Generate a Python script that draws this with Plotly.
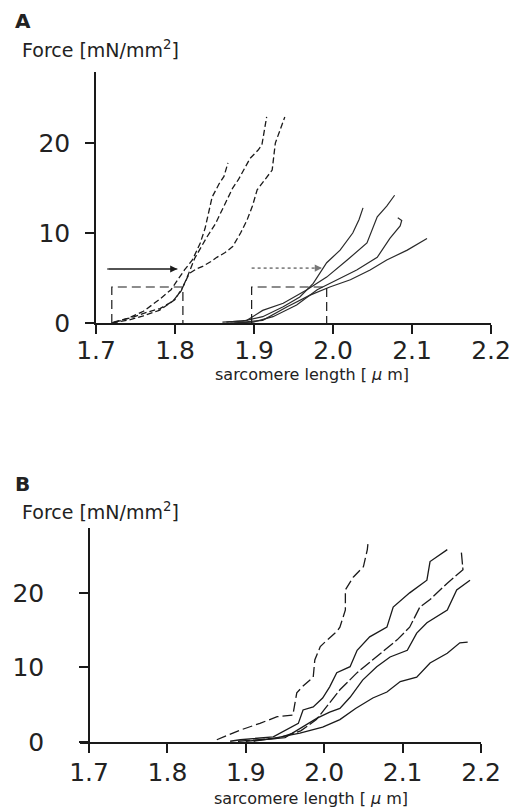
import plotly.graph_objects as go

W, H = 512, 811

# ---------------- Panel A data ----------------
a_l1_x = [1.722, 1.74, 1.76, 1.78, 1.795, 1.803, 1.812, 1.822, 1.832, 1.838, 1.847, 1.856, 1.862, 1.867]
a_l1_y = [0.1, 0.5, 1.3, 2.6, 3.7, 4.8, 5.9, 7.0, 8.9, 10.5, 14.0, 15.5, 16.3, 17.8]
a_l2_x = [1.724, 1.745, 1.765, 1.781, 1.797, 1.808, 1.815, 1.825, 1.84, 1.851, 1.862, 1.873, 1.88, 1.895, 1.905, 1.91, 1.916]
a_l2_y = [0.1, 0.6, 1.2, 1.6, 2.4, 3.6, 5.0, 7.2, 9.5, 11.0, 13.0, 15.0, 15.9, 18.3, 19.2, 19.8, 22.9]
a_l3_x = [1.72, 1.74, 1.76, 1.78, 1.80, 1.81, 1.818, 1.827, 1.835, 1.845, 1.853, 1.863, 1.873, 1.883, 1.891, 1.898, 1.904, 1.915, 1.923, 1.927, 1.933, 1.939]
a_l3_y = [0.0, 0.3, 0.8, 1.4, 2.6, 4.0, 5.5, 6.0, 6.3, 6.8, 7.3, 7.8, 8.5, 10.0, 11.4, 13.0, 14.8, 16.0, 17.0, 20.0, 21.5, 22.9]

a_r1_x = [1.86, 1.886, 1.911, 1.937, 1.958, 1.975, 1.992, 2.009, 2.025, 2.033, 2.038]
a_r1_y = [0.1, 0.2, 0.7, 1.8, 2.9, 4.4, 6.7, 8.1, 10.0, 11.5, 12.8]
a_r2_x = [1.865, 1.891, 1.911, 1.937, 1.967, 1.992, 2.018, 2.043, 2.056, 2.068, 2.078]
a_r2_y = [0.1, 0.3, 1.4, 2.2, 3.7, 5.1, 7.0, 8.9, 11.8, 13.0, 14.2]
a_r3_x = [1.87, 1.899, 1.924, 1.954, 1.98, 2.005, 2.03, 2.056, 2.072, 2.085, 2.087, 2.082]
a_r3_y = [0.0, 0.1, 0.7, 2.0, 3.7, 4.8, 5.9, 7.3, 9.4, 10.8, 11.4, 11.7]
a_r4_x = [1.875, 1.911, 1.942, 1.971, 1.996, 2.022, 2.047, 2.068, 2.094, 2.119]
a_r4_y = [0.0, 0.3, 1.8, 3.1, 4.0, 4.8, 5.9, 7.0, 8.1, 9.4]

# dashed boxes (A)
box1_x = [1.72, 1.72, 1.81, 1.81]
box1_y = [0.0, 4.0, 4.0, 0.0]
box2_x = [1.897, 1.897, 1.992, 1.992]
box2_y = [0.0, 4.0, 4.0, 0.0]
# arrows (A)
arrow1_x = [1.714, 1.803]
arrow1_y = [6.0, 6.0]
arrow2_x = [1.897, 1.986]
arrow2_y = [6.1, 6.1]

# ---------------- Panel B data ----------------
b_d1_x = [1.863, 1.893, 1.918, 1.94, 1.96, 1.965, 1.973, 1.986, 1.988, 1.995, 2.004, 2.016, 2.02, 2.027, 2.027, 2.037, 2.05, 2.055, 2.056]
b_d1_y = [0.3, 1.6, 2.5, 3.4, 3.6, 6.6, 7.5, 8.7, 11.0, 12.8, 13.7, 14.8, 15.4, 17.7, 20.4, 22.1, 23.5, 25.8, 26.8]
b_s1_x = [1.88, 1.893, 1.935, 1.967, 1.973, 1.986, 1.998, 2.007, 2.016, 2.033, 2.042, 2.058, 2.08, 2.088, 2.109, 2.131, 2.135, 2.157]
b_s1_y = [0.1, 0.3, 0.7, 2.5, 4.3, 4.7, 5.9, 7.4, 9.3, 10.1, 12.3, 14.1, 15.4, 18.1, 20.0, 21.7, 24.2, 25.8]
b_s2_x = [1.89, 1.94, 1.97, 1.99, 2.005, 2.02, 2.042, 2.062, 2.093, 2.109, 2.122, 2.135, 2.157, 2.177, 2.175]
b_s2_y = [0.1, 0.5, 1.5, 3.0, 5.0, 7.0, 9.3, 11.0, 13.7, 15.4, 18.1, 19.1, 21.3, 23.1, 25.4]
b_s3_x = [1.9, 1.95, 1.991, 2.007, 2.02, 2.033, 2.049, 2.067, 2.084, 2.106, 2.118, 2.131, 2.157, 2.169, 2.186]
b_s3_y = [0.1, 0.6, 3.2, 4.0, 4.5, 6.0, 8.3, 10.1, 11.4, 12.3, 14.6, 16.0, 17.7, 20.4, 21.7]
b_s4_x = [1.91, 1.935, 1.969, 1.998, 2.02, 2.04, 2.062, 2.08, 2.097, 2.118, 2.135, 2.157, 2.173, 2.183]
b_s4_y = [0.1, 0.5, 1.2, 2.0, 3.0, 4.5, 5.9, 6.7, 8.1, 8.7, 10.6, 11.9, 13.3, 13.4]

x_ticks = [1.7, 1.8, 1.9, 2.0, 2.1, 2.2]
x_ticktext = ["1.7", "1.8", "1.9", "2.0", "2.1", "2.2"]
y_ticks = [0, 10, 20]
y_ticktext = ["0", "10", "20"]

FONT = "DejaVu Sans"
INK = "#1a1a1a"


def px(p):
    return p / W


def py(p):
    return 1 - p / H


fig = go.Figure()


def line(x, y, xa, ya, dash="solid", color=INK, width=1.3):
    fig.add_trace(go.Scatter(x=x, y=y, mode="lines", xaxis=xa, yaxis=ya,
                             line=dict(color=color, width=width, dash=dash),
                             showlegend=False, hoverinfo="skip"))


# Panel A curves
for xs, ys in [(a_l1_x, a_l1_y), (a_l2_x, a_l2_y), (a_l3_x, a_l3_y)]:
    line(xs, ys, "x", "y", dash="6px,3px")
for xs, ys in [(a_r1_x, a_r1_y), (a_r2_x, a_r2_y), (a_r3_x, a_r3_y), (a_r4_x, a_r4_y)]:
    line(xs, ys, "x", "y", color="#2a2a2a", width=1.2)
line(box1_x, box1_y, "x", "y", dash="9px,5px", width=1.2)
line(box2_x, box2_y, "x", "y", dash="9px,5px", width=1.2)
line(arrow1_x, arrow1_y, "x", "y", width=1.2)
line(arrow2_x, arrow2_y, "x", "y", dash="dot", color="#888888", width=1.6)

# Panel B curves
line(b_d1_x, b_d1_y, "x2", "y2", dash="10px,4px")
line(b_s1_x, b_s1_y, "x2", "y2")
line(b_s2_x, b_s2_y, "x2", "y2", dash="12px,3px")
line(b_s3_x, b_s3_y, "x2", "y2")
line(b_s4_x, b_s4_y, "x2", "y2")

axis_common = dict(showline=True, linecolor=INK, linewidth=1.5, showgrid=False,
                   zeroline=False, ticks="outside", ticklen=9, tickwidth=1.5,
                   automargin=False, tickcolor=INK,
                   tickfont=dict(family=FONT, size=25, color="#222"))

fig.update_layout(
    width=W, height=H, margin=dict(l=0, r=0, t=0, b=0, autoexpand=False),
    paper_bgcolor="white", plot_bgcolor="white", showlegend=False,
    xaxis=dict(domain=[px(96), px(491)], range=[1.7, 2.2], anchor="y",
               tickvals=x_ticks, ticktext=x_ticktext, ticklabelstandoff=-5, **axis_common),
    yaxis=dict(domain=[py(323), py(72)], range=[0, 27.9], anchor="x",
               tickvals=y_ticks, ticktext=y_ticktext, ticklabelstandoff=10, **axis_common),
    xaxis2=dict(domain=[px(80), px(481)], range=[1.6885, 2.2], anchor="y2",
                tickvals=x_ticks, ticktext=x_ticktext, ticklabelstandoff=-2, **axis_common),
    yaxis2=dict(domain=[py(742), py(528)], range=[0, 28.7], anchor="free",
                position=px(89), tickvals=y_ticks, ticktext=y_ticktext,
                ticklabelstandoff=30, **axis_common),
)

# arrowheads
fig.add_annotation(x=arrow1_x[1], y=arrow1_y[1], ax=arrow1_x[0], ay=arrow1_y[0],
                   xref="x", yref="y", axref="x", ayref="y", text="", showarrow=True,
                   arrowhead=2, arrowsize=1.2, arrowwidth=1.2, arrowcolor=INK)
fig.add_annotation(x=arrow2_x[1], y=arrow2_y[1], ax=arrow2_x[1] - 0.01, ay=arrow2_y[1],
                   xref="x", yref="y", axref="x", ayref="y", text="", showarrow=True,
                   arrowhead=2, arrowsize=1.2, arrowwidth=1.2, arrowcolor="#777777")

# texts
def txt(s, x, y, size, xanchor="left", bold=False):
    fig.add_annotation(text=s, x=px(x), y=py(y), xref="paper", yref="paper",
                       xanchor=xanchor, yanchor="middle", showarrow=False,
                       font=dict(family=FONT, size=size, color="#222",
                                 weight="bold" if bold else "normal"))


txt("A", 13, 21, 20, bold=True)
txt("Force [mN/mm<sup>2</sup>]", 20, 49, 19)
txt("sarcomere length [ <i>μ</i> m]", 312, 374, 16, xanchor="center")
txt("B", 13, 484, 20, bold=True)
txt("Force [mN/mm<sup>2</sup>]", 20, 511, 19)
txt("sarcomere length [ <i>μ</i> m]", 311, 798, 16, xanchor="center")

fig.write_html("out.html")
